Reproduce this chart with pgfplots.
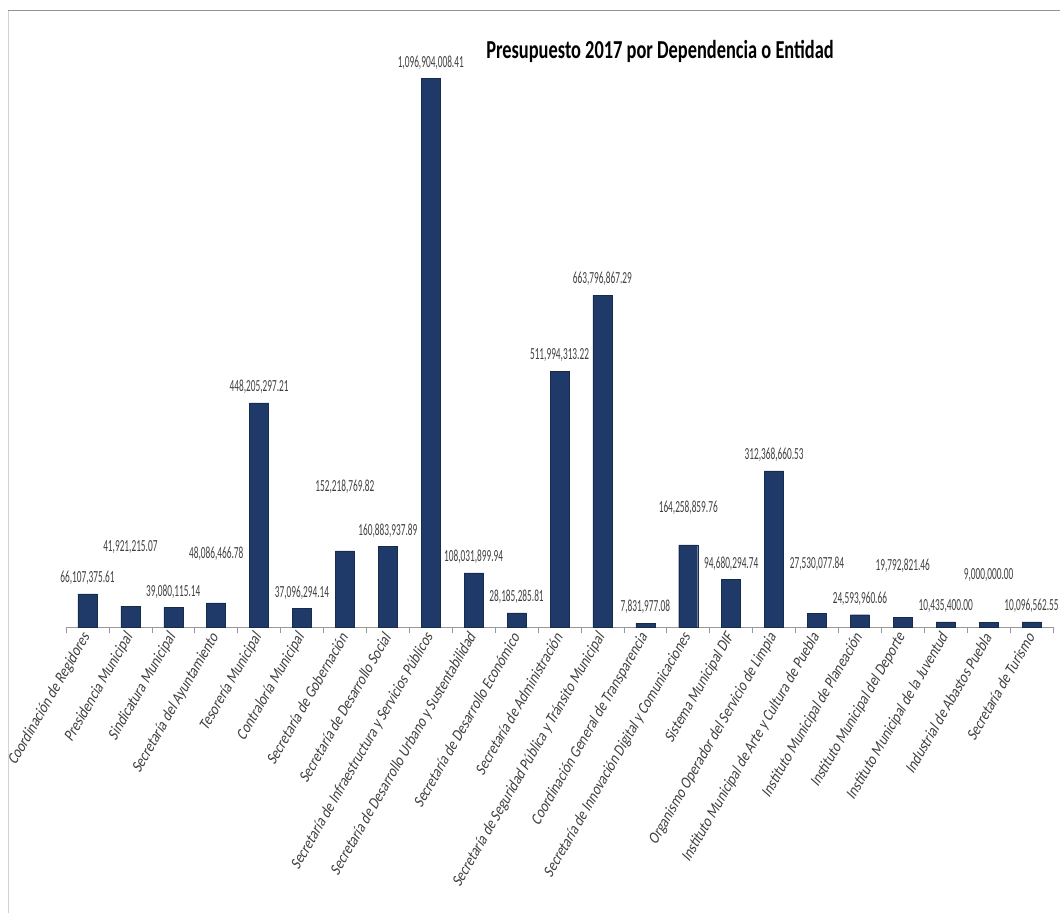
\documentclass[border=0pt]{standalone}
\usepackage{fontspec}
\setmainfont{Carlito}[FakeStretch=0.55]
\newfontfamily\tickfont{Carlito}[FakeStretch=0.86, FakeSlant=0.2]
\newfontfamily\titlefont{Carlito Bold}[FakeStretch=0.71]
\usepackage{pgfplots}
\usepackage{pgfplotstable}
\pgfplotsset{compat=1.18}
\definecolor{barblue}{HTML}{1F3A68}
\definecolor{baredge}{HTML}{172B4D}
\definecolor{txt}{HTML}{404040}

% values in millions of pesos; dy = extra lift of the value label
\pgfplotstableread{
x  y             lab               dy
0  66.10737561   66,107,375.61     0
1  41.92121507   41,921,215.07     43
2  39.08011514   39,080,115.14     0
3  48.08646678   48,086,466.78     33
4  448.20529721  448,205,297.21    0
5  37.09629414   37,096,294.14     0
6  152.21876982  152,218,769.82    48
7  160.88393789  160,883,937.89    0
8  1096.90400841 1,096,904,008.41  0
9  108.03189994  108,031,899.94    0
10 28.18528581   28,185,285.81     0
11 511.99431322  511,994,313.22    0
12 663.79686729  663,796,867.29    0
13 7.83197708    7,831,977.08      0
14 164.25885976  164,258,859.76    21
15 94.68029474   94,680,294.74     0
16 312.36866053  312,368,660.53    0
17 27.53007784   27,530,077.84     34
18 24.59396066   24,593,960.66     0
19 19.79282146   19,792,821.46     36
20 10.43540000   10,435,400.00     0
21 9.00000000    9,000,000.00      32
22 10.09656255   10,096,562.55     0
}\datatable

\begin{document}
\begin{tikzpicture}
\path[use as bounding box] (-66bp,-288bp) rectangle (994bp,627bp);
\draw[gray!85, line width=1pt] (-58bp,616bp) -- (994bp,616bp);
\draw[gray!35, line width=1pt] (-58bp,616bp) -- (-58bp,-286bp);
\begin{axis}[
  scale only axis, width=987bp, height=600bp,
  xmin=-0.5, xmax=22.5, ymin=0, ymax=1200,
  axis x line*=bottom, axis y line=none,
  x axis line style={gray!80, line width=0.8pt},
  clip=false,
  ybar, bar width=19bp,
  xtick={-0.5,0.5,...,22.5},
  x tick label as interval,
  tick align=outside, major tick length=6bp,
  x tick style={gray!80, line width=0.6pt},
  xticklabels={
    Coordinación de Regidores,
    Presidencia Municipal,
    Sindicatura Municipal,
    Secretaría del Ayuntamiento,
    Tesorería Municipal,
    Contraloría Municipal,
    Secretaría de Gobernación,
    Secretaría de Desarrollo Social,
    Secretaría de Infraestructura y Servicios Públicos,
    Secretaría de Desarrollo Urbano y Sustentabilidad,
    Secretaría de Desarrollo Económico,
    Secretaría de Administración,
    Secretaría de Seguridad Pública y Tránsito Municipal,
    Coordinación General de Transparencia,
    Secretaría de Innovación Digital y Comunicaciones,
    Sistema Municipal DIF,
    Organismo Operador del Servicio de Limpia,
    Instituto Municipal de Arte y Cultura de Puebla,
    Instituto Municipal de Planeación,
    Instituto Municipal del Deporte,
    Instituto Municipal de la Juventud,
    Industrial de Abastos Puebla,
    Secretaría de Turismo},
  xticklabel style={font=\tickfont\fontsize{16}{16}\selectfont,
    text=txt, rotate=60, anchor=east, inner sep=2pt},
  point meta=explicit symbolic,
  nodes near coords,
  visualization depends on={\thisrow{dy} \as \dy},
  every node near coord/.append style={font=\fontsize{17}{17}\selectfont,
    text=txt, anchor=center, yshift=16pt+\dy pt},
]
\addplot[fill=barblue, draw=baredge] table[x=x, y=y, meta=lab] {\datatable};
\end{axis}
\node[anchor=base, font=\titlefont\fontsize{26}{28}\selectfont] at (594bp,568bp)
  {Presupuesto 2017 por Dependencia o Entidad};
\end{tikzpicture}
\end{document}
